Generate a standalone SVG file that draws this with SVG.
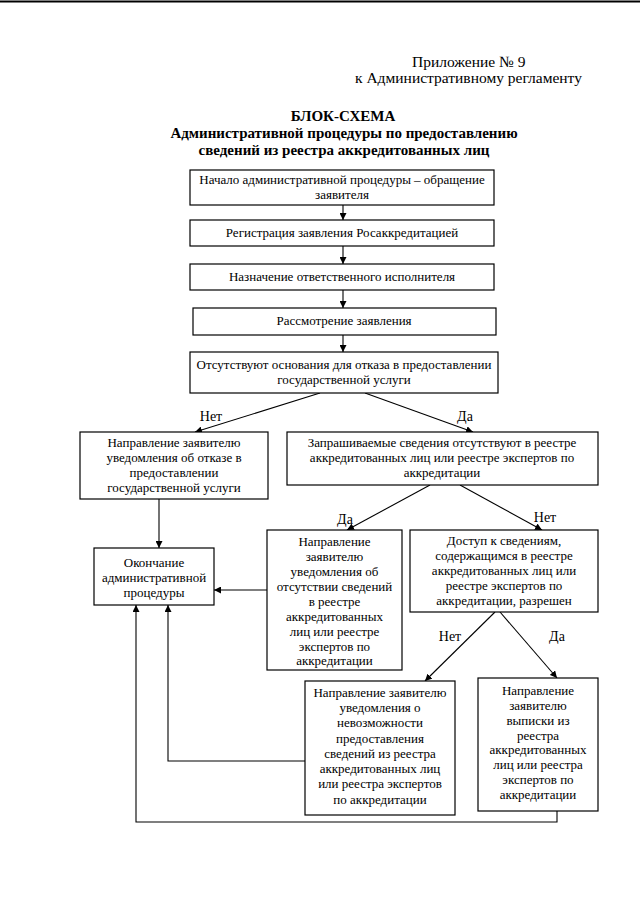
<svg xmlns="http://www.w3.org/2000/svg" width="640" height="905" viewBox="0 0 640 905" font-family="'Liberation Serif', Tinos, 'Times New Roman', 'DejaVu Serif', serif">
<style>
text{font-family:'Liberation Serif',Tinos,'Times New Roman','DejaVu Serif',serif;fill:#000}
.h{font-size:15.5px}
.t{font-size:15px;font-weight:bold;text-anchor:middle}
.b{font-size:13px;text-anchor:middle}
.l{font-size:14px;text-anchor:middle}
rect{fill:#fff;stroke:#000;stroke-width:1.2}
.c{fill:none;stroke:#000;stroke-width:1.1}
</style>
<defs>
<marker id="ah" viewBox="0 0 10 10" refX="10" refY="5" markerWidth="7" markerHeight="7" orient="auto" markerUnits="userSpaceOnUse">
<path d="M0,0 L10,5 L0,10 z" fill="#000"/>
</marker>
</defs>
<rect width="640" height="905" style="fill:#fff;stroke:none"/>
<path d="M0,1.5 H640" stroke="#000" stroke-width="2"/>
<g id="header">
<text class="h" x="412" y="67">Приложение № 9</text>
<text class="h" x="355" y="83">к Административному регламенту</text>
<text class="t" x="343" y="121">БЛОК-СХЕМА</text>
<text class="t" x="344" y="138">Административной процедуры по предоставлению</text>
<text class="t" x="344" y="155">сведений из реестра аккредитованных лиц</text>
</g>
<g id="connectors">
<path class="c" d="M343,205 V220" marker-end="url(#ah)"/>
<path class="c" d="M343,246 V264" marker-end="url(#ah)"/>
<path class="c" d="M343,290 V308" marker-end="url(#ah)"/>
<path class="c" d="M343,335 V352" marker-end="url(#ah)"/>
<path class="c" d="M320,393 L195,432" marker-end="url(#ah)"/>
<path class="c" d="M365,393 L473,432" marker-end="url(#ah)"/>
<path class="c" d="M159,499 V548" marker-end="url(#ah)"/>
<path class="c" d="M430,485 L347,530" marker-end="url(#ah)"/>
<path class="c" d="M460,485 L542,530" marker-end="url(#ah)"/>
<path class="c" d="M267,590 H214" marker-end="url(#ah)"/>
<path class="c" d="M495,612 L425,681" marker-end="url(#ah)"/>
<path class="c" d="M500,612 L557,678" marker-end="url(#ah)"/>
<path class="c" d="M305,761 H168 V605" marker-end="url(#ah)"/>
<path class="c" d="M557,811 V822 H136 V605" marker-end="url(#ah)"/>
<text class="l" x="211" y="421">Нет</text>
<text class="l" x="465" y="421">Да</text>
<text class="l" x="345" y="524">Да</text>
<text class="l" x="545" y="522">Нет</text>
<text class="l" x="450" y="641">Нет</text>
<text class="l" x="557" y="641">Да</text>
</g>
<g id="n1"><rect x="190" y="170" width="304" height="35"/>
<text class="b" x="342" y="184">Начало административной процедуры – обращение</text>
<text class="b" x="342" y="199">заявителя</text></g>
<g id="n2"><rect x="190" y="220" width="304" height="26"/>
<text class="b" x="342" y="237">Регистрация заявления Росаккредитацией</text></g>
<g id="n3"><rect x="190" y="264" width="304" height="26"/>
<text class="b" x="342" y="281">Назначение ответственного исполнителя</text></g>
<g id="n4"><rect x="193" y="308" width="303" height="27"/>
<text class="b" x="344" y="325">Рассмотрение заявления</text></g>
<g id="n5"><rect x="190" y="352" width="308" height="41"/>
<text class="b" x="344" y="369">Отсутствуют основания для отказа в предоставлении</text>
<text class="b" x="344" y="384">государственной услуги</text></g>
<g id="n6"><rect x="80" y="432" width="188" height="67"/>
<text class="b" x="174" y="447">Направление заявителю</text>
<text class="b" x="174" y="462">уведомления об отказе в</text>
<text class="b" x="174" y="477">предоставлении</text>
<text class="b" x="174" y="492">государственной услуги</text></g>
<g id="n7"><rect x="287" y="432" width="311" height="53"/>
<text class="b" x="442" y="447">Запрашиваемые сведения отсутствуют в реестре</text>
<text class="b" x="442" y="462">аккредитованных лиц или реестре экспертов по</text>
<text class="b" x="442" y="477">аккредитации</text></g>
<g id="n8"><rect x="94" y="548" width="120" height="57"/>
<text class="b" x="154" y="567">Окончание</text>
<text class="b" x="154" y="582">административной</text>
<text class="b" x="154" y="597">процедуры</text></g>
<g id="n9"><rect x="267" y="530" width="135" height="140"/>
<text class="b" x="334.5" y="546">Направление</text>
<text class="b" x="334.5" y="561">заявителю</text>
<text class="b" x="334.5" y="576">уведомления об</text>
<text class="b" x="334.5" y="591">отсутствии сведений</text>
<text class="b" x="334.5" y="606">в реестре</text>
<text class="b" x="334.5" y="621">аккредитованных</text>
<text class="b" x="334.5" y="636">лиц или реестре</text>
<text class="b" x="334.5" y="651">экспертов по</text>
<text class="b" x="334.5" y="665">аккредитации</text></g>
<g id="n10"><rect x="410" y="530" width="188" height="82"/>
<text class="b" x="504" y="545">Доступ к сведениям,</text>
<text class="b" x="504" y="560">содержащимся в реестре</text>
<text class="b" x="504" y="575">аккредитованных лиц или</text>
<text class="b" x="504" y="590">реестре экспертов по</text>
<text class="b" x="504" y="605">аккредитации, разрешен</text></g>
<g id="n11"><rect x="305" y="681" width="150" height="134"/>
<text class="b" x="380" y="697">Направление заявителю</text>
<text class="b" x="380" y="712">уведомления о</text>
<text class="b" x="380" y="727">невозможности</text>
<text class="b" x="380" y="743">предоставления</text>
<text class="b" x="380" y="758">сведений из реестра</text>
<text class="b" x="380" y="773">аккредитованных лиц</text>
<text class="b" x="380" y="788">или реестра экспертов</text>
<text class="b" x="380" y="804">по аккредитации</text></g>
<g id="n12"><rect x="478" y="678" width="120" height="133"/>
<text class="b" x="538" y="695">Направление</text>
<text class="b" x="538" y="710">заявителю</text>
<text class="b" x="538" y="725">выписки из</text>
<text class="b" x="538" y="740">реестра</text>
<text class="b" x="538" y="754">аккредитованных</text>
<text class="b" x="538" y="769">лиц или реестра</text>
<text class="b" x="538" y="784">экспертов по</text>
<text class="b" x="538" y="799">аккредитации</text></g>
</svg>
